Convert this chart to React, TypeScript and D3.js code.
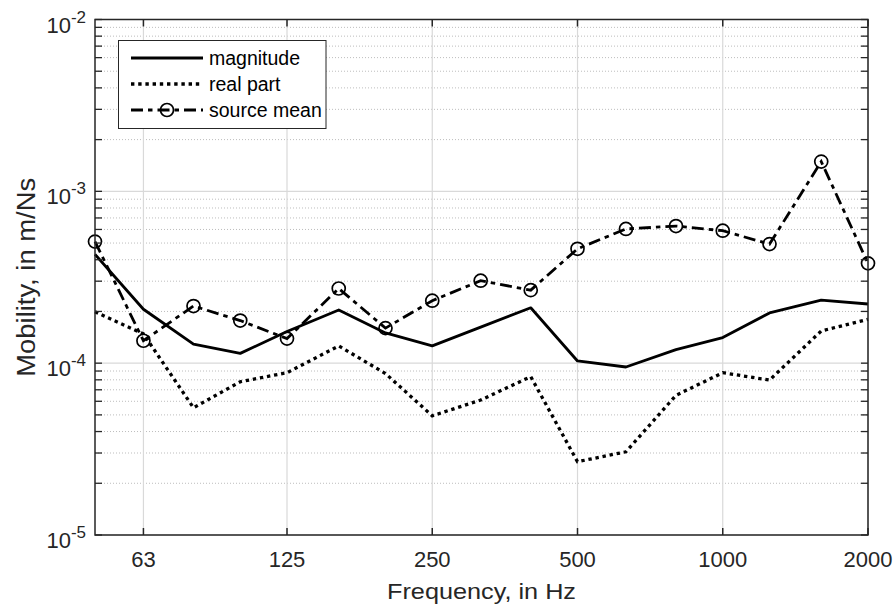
import React from "react";
import * as d3 from "d3";

const freqs = [50, 63, 80, 100, 125, 160, 200, 250, 315, 400, 500, 630, 800, 1000, 1250, 1600, 2000];
const magnitude = [4.3e-4, 2.06e-4, 1.29e-4, 1.14e-4, 1.53e-4, 2.04e-4, 1.5e-4, 1.26e-4, 1.62e-4, 2.1e-4, 1.03e-4, 9.5e-5, 1.2e-4, 1.41e-4, 1.96e-4, 2.33e-4, 2.21e-4];
const realPart = [1.99e-4, 1.48e-4, 5.5e-5, 7.8e-5, 8.8e-5, 1.26e-4, 8.7e-5, 4.94e-5, 6.1e-5, 8.35e-5, 2.67e-5, 3.05e-5, 6.5e-5, 8.8e-5, 7.97e-5, 1.54e-4, 1.8e-4];
const sourceMean = [5.1e-4, 1.35e-4, 2.15e-4, 1.77e-4, 1.39e-4, 2.72e-4, 1.6e-4, 2.31e-4, 3.02e-4, 2.66e-4, 4.63e-4, 6.04e-4, 6.28e-4, 5.9e-4, 4.93e-4, 1.49e-3, 3.81e-4];
const xTicks = [63, 125, 250, 500, 1000, 2000];
const yExponents = [-5, -4, -3, -2];
const legendLabels = ["magnitude", "real part", "source mean"];
const xLabel = "Frequency, in Hz";
const yLabel = "Mobility, in m/Ns";

const W = 896, H = 608;
const L = 95, R = 868, T = 19.5, B = 535;
const INK = "#262626";
const FONT = "'Liberation Sans', Arial, Helvetica, sans-serif";

const x = d3.scaleLog().domain([50, 2000]).range([L, R]);
const y = d3.scaleLog().domain([1e-5, 1e-2]).range([B, T]);

type Pt = { f: number; v: number };
const toPts = (vals: number[]): Pt[] => freqs.map((f, i) => ({ f, v: vals[i] }));
const line = d3.line<Pt>().x((d) => x(d.f)).y((d) => y(d.v));

const minorY: number[] = [];
for (let e = -5; e < -2; e++) for (let m = 2; m <= 9; m++) minorY.push(m * Math.pow(10, e));

const DOT = "3.4,3.8";
const DASHDOT = "12,5,4.5,5";
const LW = 2.8;

export default function App() {
  const tick = 7;
  return (
    <svg width={W} height={H} style={{ position: "absolute", left: 0, top: 0, display: "block", background: "#fff" }} fontFamily={FONT}>
      <rect x={0} y={0} width={W} height={H} fill="#fff" />
      {/* minor grid */}
      {minorY.map((v, i) => (
        <line key={"mg" + i} x1={L} x2={R} y1={y(v)} y2={y(v)} stroke="#bdbdbd" strokeWidth={1} strokeDasharray="1,2" />
      ))}
      {/* major grid */}
      {yExponents.map((e) => (
        <line key={"yg" + e} x1={L} x2={R} y1={y(Math.pow(10, e))} y2={y(Math.pow(10, e))} stroke="#d9d9d9" strokeWidth={1.2} />
      ))}
      {xTicks.map((t) => (
        <line key={"xg" + t} x1={x(t)} x2={x(t)} y1={T} y2={B} stroke="#d9d9d9" strokeWidth={1.2} />
      ))}
      {/* series */}
      <path d={line(toPts(magnitude)) || ""} fill="none" stroke="#000" strokeWidth={LW} strokeLinejoin="round" />
      <path d={line(toPts(realPart)) || ""} fill="none" stroke="#000" strokeWidth={3.3} strokeDasharray={DOT} />
      <path d={line(toPts(sourceMean)) || ""} fill="none" stroke="#000" strokeWidth={LW} strokeDasharray={DASHDOT} />
      {toPts(sourceMean).map((d, i) => (
        <circle key={"c" + i} cx={x(d.f)} cy={y(d.v)} r={6.5} fill="none" stroke="#000" strokeWidth={1.7} />
      ))}
      {/* axes box */}
      <rect x={L} y={T} width={R - L} height={B - T} fill="none" stroke={INK} strokeWidth={1.5} />
      {/* x ticks */}
      {xTicks.map((t) => (
        <g key={"xt" + t}>
          <line x1={x(t)} x2={x(t)} y1={B} y2={B - tick} stroke={INK} strokeWidth={1.5} />
          <line x1={x(t)} x2={x(t)} y1={T} y2={T + tick} stroke={INK} strokeWidth={1.5} />
          <text x={x(t)} y={567} textAnchor="middle" fontSize={22} fill={INK}>{t}</text>
        </g>
      ))}
      {/* y ticks */}
      {[...minorY, ...yExponents.map((e) => Math.pow(10, e))].map((v, i) => (
        <g key={"yt" + i}>
          <line x1={L} x2={L + tick} y1={y(v)} y2={y(v)} stroke={INK} strokeWidth={1.3} />
          <line x1={R} x2={R - tick} y1={y(v)} y2={y(v)} stroke={INK} strokeWidth={1.3} />
        </g>
      ))}
      {yExponents.map((e) => (
        <text key={"yl" + e} x={86} y={y(Math.pow(10, e)) + 13} textAnchor="end" fontSize={22} fill={INK}>
          10<tspan dy={-10} fontSize={17}>{String(e)}</tspan>
        </text>
      ))}
      {/* axis labels */}
      <text x={(L + R) / 2} y={599} textAnchor="middle" fontSize={22} fill={INK} textLength={189} lengthAdjust="spacingAndGlyphs">{xLabel}</text>
      <text transform={`translate(35, ${(T + B) / 2}) rotate(-90)`} textAnchor="middle" fontSize={26} fill={INK} textLength={199} lengthAdjust="spacingAndGlyphs">{yLabel}</text>
      {/* legend */}
      <rect x={118.5} y={40.5} width={207.5} height={88} fill="#fff" stroke={INK} strokeWidth={1} />
      {legendLabels.map((lab, i) => {
        const ly = 58 + i * 26;
        return (
          <g key={"lg" + i}>
            <line x1={131} x2={203} y1={ly} y2={ly} stroke="#000" strokeWidth={i === 1 ? 3.3 : LW}
              strokeDasharray={i === 0 ? undefined : i === 1 ? DOT : DASHDOT} />
            {i === 2 && <circle cx={167} cy={ly} r={6.5} fill="none" stroke="#000" strokeWidth={1.7} />}
            <text x={209} y={ly + 7} fontSize={19.5} fill="#000">{lab}</text>
          </g>
        );
      })}
    </svg>
  );
}
